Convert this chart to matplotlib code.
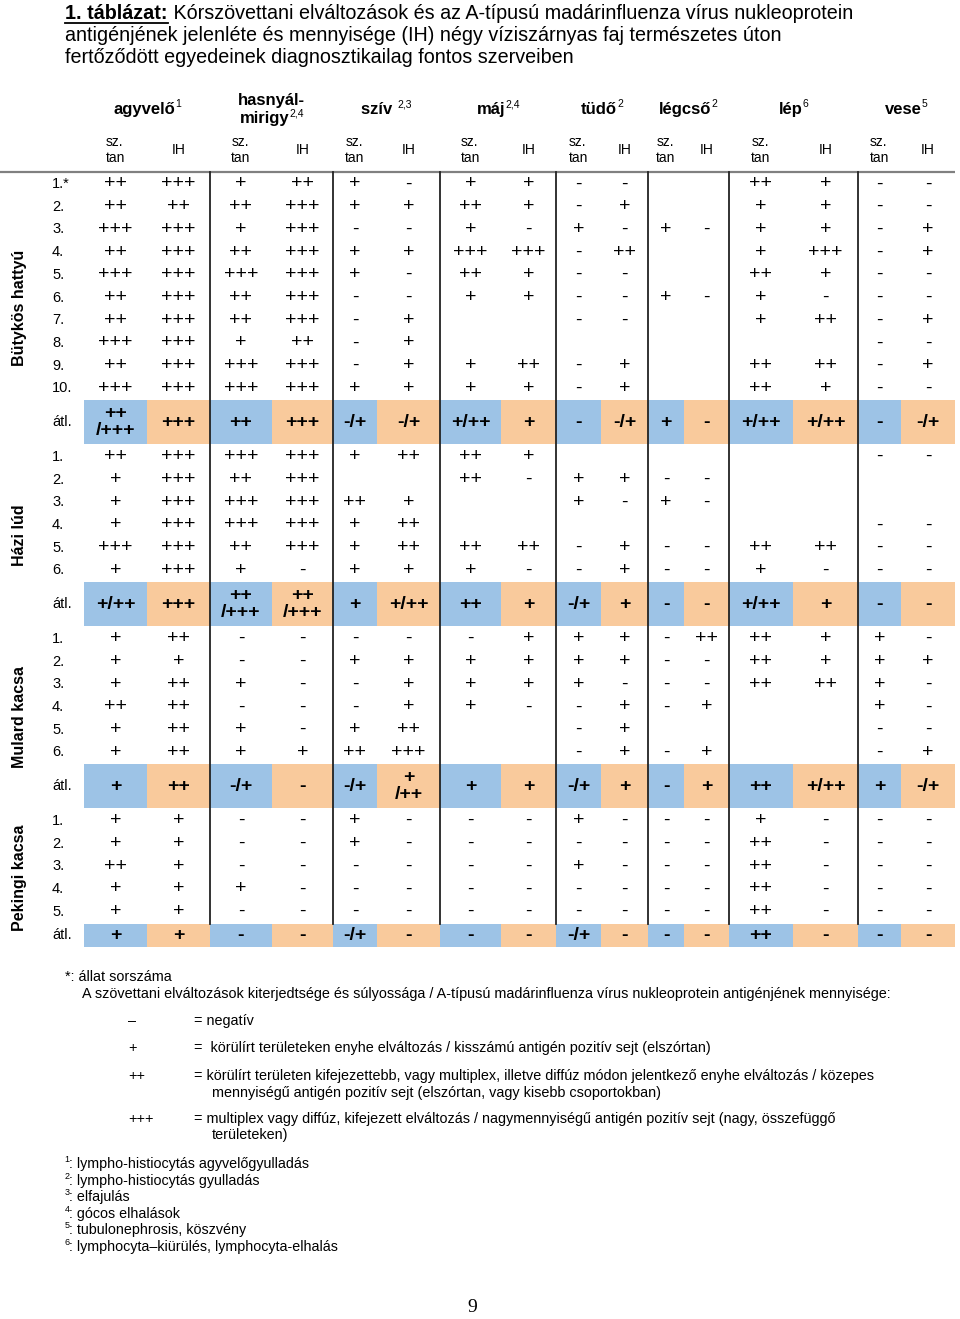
import matplotlib
matplotlib.use("Agg")
import matplotlib.pyplot as plt
from matplotlib.patches import Rectangle
from matplotlib import font_manager

plt.rcParams['font.family'] = ['Liberation Sans', 'DejaVu Sans']

names = {f.name for f in font_manager.fontManager.ttflist}
narrow = 'Liberation Sans Narrow' if 'Liberation Sans Narrow' in names else 'Liberation Sans'

# ---- data -----------------------------------------------------------
organs = ["agyvelő", "hasnyál-|mirigy", "szív ", "máj", "tüdő", "légcső", "lép", "vese"]
organ_sup = ["1", "2,4", "2,3", "2,4", "2", "2", "6", "5"]
sub_cols = ["sz.\ntan", "IH"]
species = ["Bütykös hattyú", "Házi lúd", "Mulard kacsa", "Pekingi kacsa"]

# "." = empty cell, "|" = line break inside an averaged cell
butykos = [
    "++ +++ + ++ + - + + - - . . ++ + - -",
    "++ ++ ++ +++ + + ++ + - + . . + + - -",
    "+++ +++ + +++ - - + - + - + - + + - +",
    "++ +++ ++ +++ + + +++ +++ - ++ . . + +++ - +",
    "+++ +++ +++ +++ + - ++ + - - . . ++ + - -",
    "++ +++ ++ +++ - - + + - - + - + - - -",
    "++ +++ ++ +++ - + . . - - . . + ++ - +",
    "+++ +++ + ++ - + . . . . . . . . - -",
    "++ +++ +++ +++ - + + ++ - + . . ++ ++ - +",
    "+++ +++ +++ +++ + + + + - + . . ++ + - -",
]
butykos_atl = "++|/+++ +++ ++ +++ -/+ -/+ +/++ + - -/+ + - +/++ +/++ - -/+"

hazi = [
    "++ +++ +++ +++ + ++ ++ + . . . . . . - -",
    "+ +++ ++ +++ . . ++ - + + - - . . . .",
    "+ +++ +++ +++ ++ + . . + - + - . . . .",
    "+ +++ +++ +++ + ++ . . . . . . . . - -",
    "+++ +++ ++ +++ + ++ ++ ++ - + - - ++ ++ - -",
    "+ +++ + - + + + - - + - - + - - -",
]
hazi_atl = "+/++ +++ ++|/+++ ++|/+++ + +/++ ++ + -/+ + - - +/++ + - -"

mulard = [
    "+ ++ - - - - - + + + - ++ ++ + + -",
    "+ + - - + + + + + + - - ++ + + +",
    "+ ++ + - - + + + + - - - ++ ++ + -",
    "++ ++ - - - + + - - + - + . . + -",
    "+ ++ + - + ++ . . - + . . . . - -",
    "+ ++ + + ++ +++ . . - + - + . . - +",
]
mulard_atl = "+ ++ -/+ - -/+ +|/++ + + -/+ + - + ++ +/++ + -/+"

pekingi = [
    "+ + - - + - - - + - - - + - - -",
    "+ + - - + - - - - - - - ++ - - -",
    "++ + - - - - - - + - - - ++ - - -",
    "+ + + - - - - - - - - - ++ - - -",
    "+ + - - - - - - - - - - ++ - - -",
]
pekingi_atl = "+ + - - -/+ - - - -/+ - - - ++ - - -"

groups = [butykos, hazi, mulard, pekingi]
groups_atl = [butykos_atl, hazi_atl, mulard_atl, pekingi_atl]

title_lines = [
    "Kórszövettani elváltozások és az A-típusú madárinfluenza vírus nukleoprotein",
    "antigénjének jelenléte és mennyisége (IH) négy víziszárnyas faj természetes úton",
    "fertőződött egyedeinek diagnosztikailag fontos szerveiben",
]
legend_syms = ["–", "+", "++", "+++"]
legend_desc = [
    ["= negatív"],
    ["=  körülírt területeken enyhe elváltozás / kisszámú antigén pozitív sejt (elszórtan)"],
    ["= körülírt területen kifejezettebb, vagy multiplex, illetve diffúz módon jelentkező enyhe elváltozás / közepes",
     "mennyiségű antigén pozitív sejt (elszórtan, vagy kisebb csoportokban)"],
    ["= multiplex vagy diffúz, kifejezett elváltozás / nagymennyiségű antigén pozitív sejt (nagy, összefüggő",
     "területeken)"],
]
notes = ["lympho-histiocytás agyvelőgyulladás", "lympho-histiocytás gyulladás", "elfajulás",
         "gócos elhalások", "tubulonephrosis, köszvény", "lymphocyta–kiürülés, lymphocyta-elhalás"]

# ---- layout ---------------------------------------------------------
col_edges = [84, 147, 210, 272, 333, 377, 440, 501, 556, 601, 648, 684, 729, 793, 858, 901, 955]
blue, orange = '#9DC3E6', '#F9CA9C'
row_step = 22.7
top_line = 172
cell_fs = 14

fig = plt.figure(figsize=(9.6, 13.19), dpi=100)
ax = fig.add_axes([0, 0, 1, 1])
ax.set_xlim(0, 960)
ax.set_ylim(1319, 0)
ax.axis('off')
rend = fig.canvas.get_renderer()


def width_of(t):
    return t.get_window_extent(renderer=rend).width


def text_sup(x, y, base, sup, fs, ha='left', **kw):
    # base text with a small superscript after it, baseline at y
    probe = ax.text(0, 0, base, fontsize=fs, **kw)
    wb = width_of(probe)
    probe.remove()
    probe = ax.text(0, 0, sup, fontsize=fs * 0.62)
    ws = width_of(probe)
    probe.remove()
    x0 = x - (wb + ws) / 2 if ha == 'center' else x
    ax.text(x0, y, base, fontsize=fs, va='baseline', **kw)
    ax.text(x0 + wb, y - fs * 0.55, sup, fontsize=fs * 0.62, va='baseline')


# title
probe = ax.text(0, 0, title_lines[1], fontsize=13, family=narrow)
fs_title = 13 * 714 / width_of(probe)
probe.remove()
t = ax.text(65, 19, "1. táblázat:", fontsize=fs_title, fontweight='bold', family=narrow, va='baseline')
w = width_of(t)
ax.plot([65, 65 + w], [22.5, 22.5], color='k', lw=1.3)
ax.text(65 + w, 19, " " + title_lines[0], fontsize=fs_title, family=narrow, va='baseline')
ax.text(65, 41, title_lines[1], fontsize=fs_title, family=narrow, va='baseline')
ax.text(65, 63, title_lines[2], fontsize=fs_title, family=narrow, va='baseline')

# column headers
centers = [(col_edges[i] + col_edges[i + 1]) / 2 for i in range(len(col_edges) - 1)]
for k, (org, sup) in enumerate(zip(organs, organ_sup)):
    cx = (col_edges[2 * k] + col_edges[2 * k + 2]) / 2
    if "|" in org:
        a, b = org.split("|")
        ax.text(cx, 105, a, fontsize=12, fontweight='bold', ha='center', va='baseline')
        text_sup(cx, 123, b, sup, 12, ha='center', fontweight='bold')
    else:
        text_sup(cx, 114, org, sup, 12, ha='center', fontweight='bold')
    for j, sc in enumerate(sub_cols):
        ax.text(centers[2 * k + j], 150, sc, fontsize=10, ha='center', va='center',
                multialignment='left', linespacing=1.15)

ax.plot([0, 955], [top_line, top_line], color='#808080', lw=1.6, solid_capstyle='butt')

# body
y = top_line + 12
prev_bottom = top_line
last_band_top = None
for g, (rows, atl) in enumerate(zip(groups, groups_atl)):
    for i, row in enumerate(rows):
        yy = y + row_step * i
        label = "1.*" if (g == 0 and i == 0) else f"{i + 1}."
        ax.text(52, yy, label, fontsize=10.5, ha='left', va='center')
        for c, val in enumerate(row.split()):
            if val != ".":
                ax.text(centers[c], yy, val, fontsize=cell_fs, ha='center', va='center')
    atl_vals = atl.split()
    band_top = y + row_step * (len(rows) - 1) + 12
    band_h = 44 if any("|" in v for v in atl_vals) else 23.5
    for c, val in enumerate(atl_vals):
        ax.add_patch(Rectangle((col_edges[c], band_top), col_edges[c + 1] - col_edges[c], band_h,
                               facecolor=blue if c % 2 == 0 else orange, edgecolor='none', zorder=0))
        ax.text(centers[c], band_top + band_h / 2, val.replace("|", "\n"), fontsize=cell_fs,
                fontweight='bold', ha='center', va='center', linespacing=1.0)
    ax.text(52, band_top + band_h / 2, "átl.", fontsize=10.5, ha='left', va='center')
    bottom = band_top + band_h
    ax.text(20, (prev_bottom + bottom) / 2, species[g], fontsize=11.5, fontweight='bold',
            rotation=90, ha='center', va='center')
    prev_bottom = bottom
    last_band_top = band_top
    y = bottom + 12.5

for k in range(1, len(organs)):
    x = col_edges[2 * k]
    ax.plot([x, x], [top_line, last_band_top], color='#222222', lw=1.3, zorder=3)

# legend
probe = ax.text(0, 0, "A szövettani elváltozások kiterjedtsége és súlyossága / "
                "A-típusú madárinfluenza vírus nukleoprotein antigénjének mennyisége:",
                fontsize=10, family=narrow)
fs_leg = 10 * 806 / width_of(probe)
probe.remove()
ax.text(65, 977, "*: állat sorszáma", fontsize=fs_leg, family=narrow, va='center')
ax.text(82, 994, "A szövettani elváltozások kiterjedtsége és súlyossága / "
        "A-típusú madárinfluenza vírus nukleoprotein antigénjének mennyisége:",
        fontsize=fs_leg, family=narrow, va='center')
leg_y = [1021, 1048, 1076, 1119]
for sym, desc, ly in zip(legend_syms, legend_desc, leg_y):
    ax.text(128, ly, sym, fontsize=fs_leg, family=narrow, va='center')
    ax.text(194, ly, desc[0], fontsize=fs_leg, family=narrow, va='center')
    for j, extra in enumerate(desc[1:]):
        ax.text(212, ly + 16.5 * (j + 1), extra, fontsize=fs_leg, family=narrow, va='center')

# numbered notes
for i, note in enumerate(notes):
    by = 1168 + 16.6 * i
    ax.text(64.5, by - 6, str(i + 1), fontsize=6.5, va='baseline')
    ax.text(69, by, ": " + note, fontsize=10.3, va='baseline')

ax.text(472, 1308, "9", fontsize=14, family='Liberation Serif', ha='center', va='center')

fig.savefig("out.png", dpi=100)
